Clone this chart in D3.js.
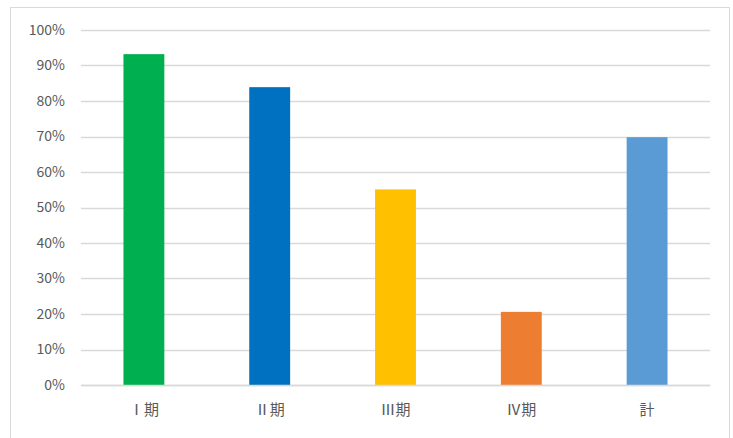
<!DOCTYPE html>
<html>
<head>
<meta charset="utf-8">
<script src="https://cdn.jsdelivr.net/npm/d3@7"></script>
<style>
  body { margin: 0; background: #fff; }
  text { font-family: "Noto Sans CJK JP", "Noto Sans", sans-serif; }
</style>
</head>
<body>
<div id="chart"></div>
<script>
// chart data
const categories = ['Ⅰ期', 'Ⅱ期', 'Ⅲ期', 'Ⅳ期', '計'];
const rates = [0.932, 0.839, 0.551, 0.206, 0.698];
const barColors = ['#00b050', '#0070c0', '#ffc000', '#ed7d31', '#5b9bd5'];
const yTicks = [0, 0.1, 0.2, 0.3, 0.4, 0.5, 0.6, 0.7, 0.8, 0.9, 1.0];

const svgWidth = 733;
const svgHeight = 438;
const margin = { top: 30, right: 23, bottom: 53, left: 81 };
const chartWidth = svgWidth - margin.left - margin.right;
const chartHeight = svgHeight - margin.top - margin.bottom;

const svg = d3.select('#chart')
    .append('svg')
    .attr('width', svgWidth)
    .attr('height', svgHeight);

// outer frame
svg.append('rect')
    .attr('x', 10.5)
    .attr('y', 7.5)
    .attr('width', 719)
    .attr('height', 440)
    .attr('fill', '#fff')
    .attr('stroke', '#d9d9d9');

const chart = svg.append('g')
    .attr('transform', `translate(${margin.left},${margin.top})`);

const xScale = d3.scaleBand()
    .domain(categories)
    .range([0, chartWidth])
    .paddingInner(0.675)
    .paddingOuter(0.3375);

const yScale = d3.scaleLinear()
    .domain([0, 1])
    .range([chartHeight, 0]);

// gridlines
chart.append('g')
    .selectAll('line')
    .data(yTicks)
    .join('line')
    .attr('x1', 0)
    .attr('x2', chartWidth)
    .attr('y1', d => Math.round(yScale(d)) + 0.5)
    .attr('y2', d => Math.round(yScale(d)) + 0.5)
    .attr('stroke', '#d9d9d9')
    .attr('stroke-width', 1.5);

// y axis labels
const yAxis = d3.axisLeft(yScale)
    .tickValues(yTicks)
    .tickFormat(d3.format('.0%'))
    .tickSize(0)
    .tickPadding(16);

chart.append('g')
    .call(yAxis)
    .call(g => g.select('.domain').remove())
    .selectAll('text')
    .attr('fill', '#595959')
    .style('font-size', '14px');

// bars
chart.selectAll('rect.bar')
    .data(rates)
    .join('rect')
    .attr('class', 'bar')
    .attr('x', (d, i) => xScale(categories[i]))
    .attr('y', d => yScale(d))
    .attr('width', xScale.bandwidth())
    .attr('height', d => chartHeight - yScale(d))
    .attr('fill', (d, i) => barColors[i]);

// x axis
const xAxis = d3.axisBottom(xScale)
    .tickSize(0)
    .tickPadding(19);

chart.append('g')
    .attr('transform', `translate(0,${chartHeight})`)
    .call(xAxis)
    .call(g => g.select('.domain').attr('stroke', '#d9d9d9').attr('stroke-width', 1.5))
    .selectAll('text')
    .attr('fill', '#595959')
    .style('font-size', '15px');
</script>
</body>
</html>
